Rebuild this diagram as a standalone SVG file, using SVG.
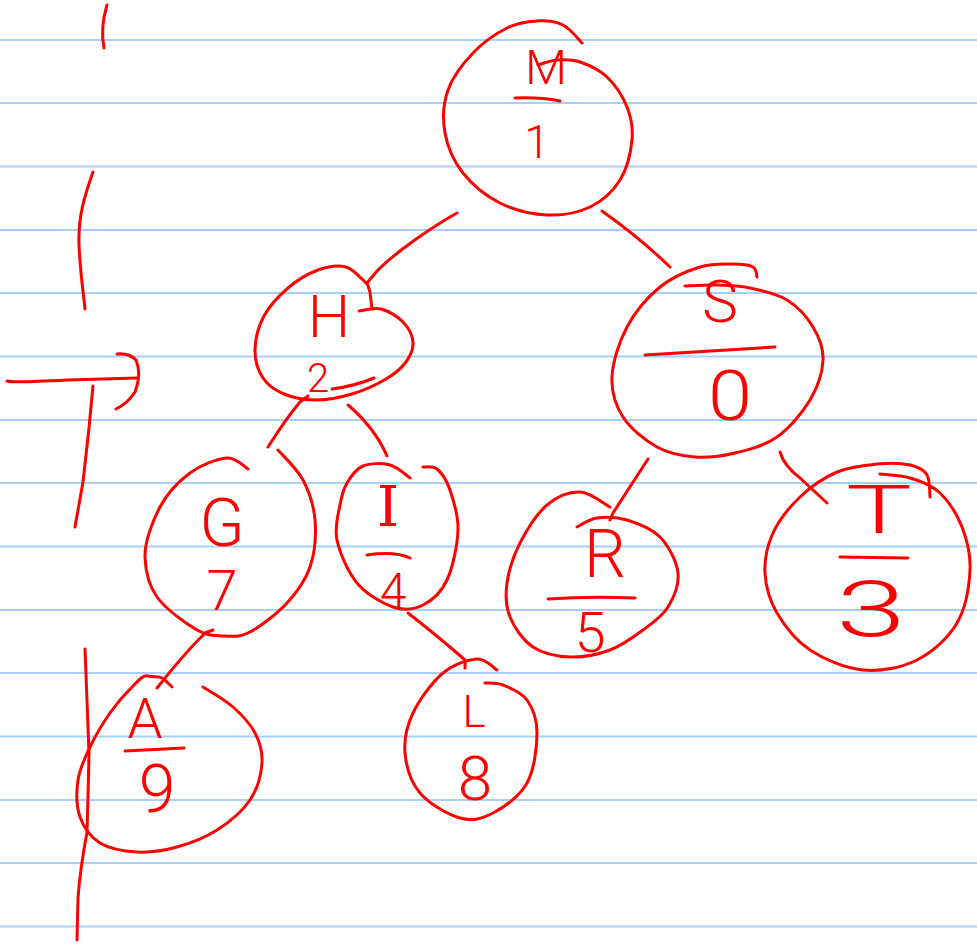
<svg xmlns="http://www.w3.org/2000/svg" width="977" height="945" viewBox="0 0 977 945">
<style>
.paper{stroke:#a6d0fa;stroke-width:2;fill:none}
.ink{stroke:#f00;stroke-width:3;fill:none;stroke-linecap:round;stroke-linejoin:round}
.t{fill:#f00;font-family:Roboto,"Liberation Sans",Arial,sans-serif;font-weight:300;text-anchor:middle}
.ts{fill:#f00;font-family:"DejaVu Serif","Liberation Serif",serif;font-weight:300;text-anchor:middle}
</style>
<rect x="0" y="0" width="977" height="945" fill="#fff"/>
<g id="paper-lines">
<path class="paper" d="M0,40H977M0,103H977M0,166.5H977M0,230H977M0,293H977M0,356.5H977M0,420H977M0,483H977M0,546.5H977M0,610H977M0,673H977M0,736.5H977M0,800H977M0,863H977M0,926.5H977"/>
</g>
<g id="margin-marks">
<path class="ink" d="M107,5 Q100,28 104,48"/>
<path class="ink" d="M93,172 C85,195 78,215 79,245 C80,270 83,290 85,309"/>
<path class="ink" d="M7,381 Q12,383 67,380 L137,378"/>
<path class="ink" d="M117,354 Q130,353 136,360 Q142,374 135,392 Q128,403 116,409"/>
<path class="ink" d="M93,386 L89,428 Q86,455 83,482 L75,527"/>
<path class="ink" d="M85,649 L89,753 Q88,800 87,832 Q80,870 78,898 L77,940"/>
</g>
<g id="connectors">
<path class="ink" d="M457,213 C430,228 395,253 378,270 L367,283 L370,292 L372,309"/>
<path class="ink" d="M602,211 Q640,238 670,267"/>
<path class="ink" d="M308,396 L300,402 Q285,420 268,447"/>
<path class="ink" d="M348,405 Q375,428 387,456"/>
<path class="ink" d="M213,630 L205,633 Q183,655 157,688"/>
<path class="ink" d="M408,613 Q440,638 465,660 L465,668"/>
<path class="ink" d="M648,459 L613,513 L610,520"/>
<path class="ink" d="M780,452 Q784,466 800,478 L827,503"/>
</g>
<g id="node-M">
<path class="ink" d="M582,43 C579,40 570.5,28.7 563,25 C555.5,21.3 546.3,20.5 537,21 C527.7,21.5 517.7,22.7 507,28 C496.3,33.3 482.8,42.7 473,53 C463.2,63.3 452.7,76.7 448,90 C443.3,103.3 442.5,119.2 445,133 C447.5,146.8 453.8,161.3 463,173 C472.2,184.7 486,196 500,203 C514,210 532,214.3 547,215 C562,215.7 577.8,212.8 590,207 C602.2,201.2 613,191.2 620,180 C627,168.8 630.8,152.2 632,140 C633.2,127.8 631.2,117.5 627,107 C622.8,96.5 614.8,84.5 607,77 C599.2,69.5 588.3,64.8 580,62 C571.7,59.2 564,59.5 557,60 C550,60.5 541.2,64.2 538,65"/>
<text class="t" x="546" y="84" font-size="48" textLength="42" lengthAdjust="spacingAndGlyphs">M</text>
<path class="ink" d="M515,98 Q540,97 560,101"/>
<text class="t" x="537" y="158" font-size="46">1</text>
</g>
<g id="node-H">
<path class="ink" d="M359,311 C362.7,310.7 373.7,307.2 381,309 C388.3,310.8 397.7,316.5 403,322 C408.3,327.5 412.5,335.3 413,342 C413.5,348.7 410.5,355.8 406,362 C401.5,368.2 395,373.7 386,379 C377,384.3 363.7,390.5 352,394 C340.3,397.5 327.3,400 316,400 C304.7,400 292.8,397.7 284,394 C275.2,390.3 267.8,385.3 263,378 C258.2,370.7 254.8,360.3 255,350 C255.2,339.7 258.5,326.3 264,316 C269.5,305.7 279,295.7 288,288 C297,280.3 308.3,273.5 318,270 C327.7,266.5 338,264.8 346,267 C354,269.2 362.7,280.3 366,283"/>
<text class="t" x="329" y="337" font-size="60">H</text>
<text class="t" x="318" y="392" font-size="40">2</text>
<path class="ink" d="M332,389 Q355,386 374,378"/>
</g>
<g id="node-S">
<path class="ink" d="M757,277 C756.3,275.3 757,269.2 753,267 C749,264.8 741.8,264 733,264 C724.2,264 712.2,263.2 700,267 C687.8,270.8 672.2,277 660,287 C647.8,297 635,312 627,327 C619,342 612.7,362 612,377 C611.3,392 615.5,405.3 623,417 C630.5,428.7 645,440.3 657,447 C669,453.7 682,456 695,457 C708,458 721.3,456.3 735,453 C748.7,449.7 764.5,445.8 777,437 C789.5,428.2 802.3,412.8 810,400 C817.7,387.2 822.5,372.2 823,360 C823.5,347.8 819,337 813,327 C807,317 797.5,306.5 787,300 C776.5,293.5 761.7,290.5 750,288 C738.3,285.5 727.8,285.3 717,285 C706.2,284.7 690.3,285.8 685,286"/>
<text class="t" x="720" y="322" font-size="60">S</text>
<path class="ink" d="M645,355 L775,347"/>
<text class="t" x="730" y="420" font-size="70" textLength="44" lengthAdjust="spacingAndGlyphs">0</text>
</g>
<g id="node-G">
<path class="ink" d="M248,469 C244.5,467.2 236.7,457.3 227,458 C217.3,458.7 201.2,464.8 190,473 C178.8,481.2 167.5,493 160,507 C152.5,521 144.5,542 145,557 C145.5,572 148.3,584.8 157,597 C165.7,609.2 185.7,623.5 197,630 C208.3,636.5 216.2,635.7 225,636 C233.8,636.3 239.7,637.5 250,632 C260.3,626.5 277,613.8 287,603 C297,592.2 305.3,580.8 310,567 C314.7,553.2 316.2,534.5 315,520 C313.8,505.5 309.2,491.7 303,480 C296.8,468.3 282.2,455 278,450"/>
<text class="t" x="222" y="546" font-size="66">G</text>
<text class="t" x="222" y="610" font-size="56">7</text>
</g>
<g id="node-I">
<path class="ink" d="M410,478 C406.7,475.8 397.8,467 390,465 C382.2,463 370.2,463 363,466 C355.8,469 350.8,476.5 347,483 C343.2,489.5 341.7,495.5 340,505 C338.3,514.5 334.2,527 337,540 C339.8,553 347.7,571.8 357,583 C366.3,594.2 382,603.3 393,607 C404,610.7 414,609.5 423,605 C432,600.5 441.2,592.5 447,580 C452.8,567.5 457.5,545 458,530 C458.5,515 453.5,500.2 450,490 C446.5,479.8 441.5,472.8 437,469 C432.5,465.2 425.3,467.3 423,467"/>
<text class="ts" x="388" y="526" font-size="56">I</text>
<path class="ink" d="M367,555 Q395,551 410,558"/>
<text class="t" x="393" y="607" font-size="48">4</text>
</g>
<g id="node-R">
<path class="ink" d="M577,527 C580.3,525.5 588.7,519.2 597,518 C605.3,516.8 616.5,516.8 627,520 C637.5,523.2 651.5,528.2 660,537 C668.5,545.8 676.7,561.3 678,573 C679.3,584.7 673.8,597.5 668,607 C662.2,616.5 652.7,622.8 643,630 C633.3,637.2 622.2,645.5 610,650 C597.8,654.5 582.8,657.5 570,657 C557.2,656.5 543,653.7 533,647 C523,640.3 514.3,627.7 510,617 C505.7,606.3 505.3,595.3 507,583 C508.7,570.7 513.3,556 520,543 C526.7,530 537,513.5 547,505 C557,496.5 569.5,491.7 580,492 C590.5,492.3 605,504.5 610,507"/>
<text class="t" x="605" y="577" font-size="66">R</text>
<path class="ink" d="M548,599 Q590,596 635,598"/>
<text class="t" x="590" y="652" font-size="56">5</text>
</g>
<g id="node-T">
<path class="ink" d="M930,497 C929.5,493.3 930.3,480.3 927,475 C923.7,469.7 918.3,466.8 910,465 C901.7,463.2 889.2,462.8 877,464 C864.8,465.2 849.8,466.5 837,472 C824.2,477.5 810.7,486.8 800,497 C789.3,507.2 778.8,520.3 773,533 C767.2,545.7 764.3,559.7 765,573 C765.7,586.3 769.5,600.2 777,613 C784.5,625.8 795.7,640.5 810,650 C824.3,659.5 845.2,668.3 863,670 C880.8,671.7 901.3,667.8 917,660 C932.7,652.2 948.2,638 957,623 C965.8,608 969.2,586 970,570 C970.8,554 967,539.8 962,527 C957,514.2 948.7,501.2 940,493 C931.3,484.8 920,481.2 910,478 C900,474.8 885,474.7 880,474"/>
<text class="t" x="879" y="533" font-size="66" textLength="66" lengthAdjust="spacingAndGlyphs">T</text>
<path class="ink" d="M840,557 L908,558"/>
<text class="t" x="871" y="636" font-size="78" textLength="70" lengthAdjust="spacingAndGlyphs">3</text>
</g>
<g id="node-A">
<path class="ink" d="M203,687 C208,690.3 224.3,699.3 233,707 C241.7,714.7 250.2,723.7 255,733 C259.8,742.3 262.8,751.8 262,763 C261.2,774.2 257.5,788.8 250,800 C242.5,811.2 229.2,822.2 217,830 C204.8,837.8 190.3,843.3 177,847 C163.7,850.7 149.8,852.7 137,852 C124.2,851.3 109.5,848.8 100,843 C90.5,837.2 83.7,827.5 80,817 C76.3,806.5 76.3,791.7 78,780 C79.7,768.3 84.7,758.2 90,747 C95.3,735.8 103,723 110,713 C117,703 125.7,693.2 132,687 C138.3,680.8 143,674.5 148,676 C153,677.5 158,676.2 162,678 C166,680.5 170.3,685.5 172,687"/>
<text class="t" x="145" y="738" font-size="56">A</text>
<path class="ink" d="M125,751 L184,748"/>
<text class="t" x="157" y="812" font-size="66">9</text>
</g>
<g id="node-L">
<path class="ink" d="M497,670 C493.7,668.2 486,658.5 477,659 C468,659.5 453.7,664 443,673 C432.3,682 419.3,699.7 413,713 C406.7,726.3 403.8,739.7 405,753 C406.2,766.3 410.8,782.2 420,793 C429.2,803.8 447.8,814.7 460,818 C472.2,821.3 481.8,818.8 493,813 C504.2,807.2 519.7,796.3 527,783 C534.3,769.7 537,746.8 537,733 C537,719.2 532.7,708 527,700 C521.3,692 510,687.8 503,685 C496,682.2 488,683.3 485,683"/>
<text class="t" x="474" y="727" font-size="44">L</text>
<text class="t" x="475" y="800" font-size="62">8</text>
</g>
</svg>
